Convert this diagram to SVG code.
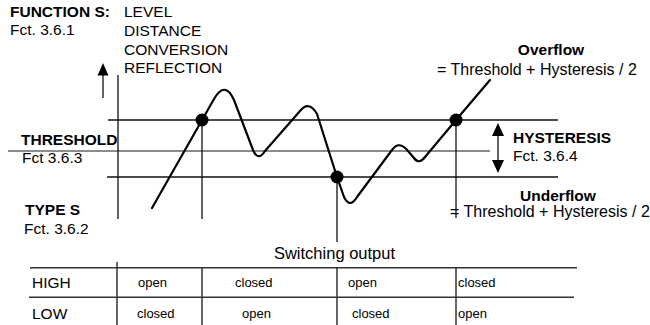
<svg xmlns="http://www.w3.org/2000/svg" width="650" height="325" viewBox="0 0 650 325">
<style>
text{font-family:"Liberation Sans",Arial,sans-serif;fill:#000}
.b{font-weight:bold;font-size:15.5px}
.r{font-size:15.5px}
.eq{font-size:16px}
.s{font-size:13px}
.ln{stroke:#111;stroke-width:1.3;fill:none}
.th{stroke:#666;stroke-width:1.5;fill:none}
.tb{stroke:#333;stroke-width:1.5;fill:none}
.curve{stroke:#000;stroke-width:2.2;fill:none;stroke-linejoin:round;stroke-linecap:round}
.dot{fill:#000}
</style>
<rect width="650" height="325" fill="#fff"/>
<g id="labels">
<text class="b" x="10" y="17">FUNCTION S:</text>
<text class="r" x="10" y="35">Fct. 3.6.1</text>
<text class="r" x="124" y="17">LEVEL</text>
<text class="r" x="124" y="35.5">DISTANCE</text>
<text class="r" x="124" y="54.5">CONVERSION</text>
<text class="r" x="124" y="73">REFLECTION</text>
<text class="b" x="21" y="145">THRESHOLD</text>
<text class="r" x="22" y="163">Fct 3.6.3</text>
<text class="b" x="25" y="215">TYPE S</text>
<text class="r" x="24" y="234">Fct. 3.6.2</text>
<text class="b" x="551" y="55" text-anchor="middle">Overflow</text>
<text class="eq" x="437" y="75">= Threshold + Hysteresis / 2</text>
<text class="b" x="513" y="143">HYSTERESIS</text>
<text class="r" x="513" y="161">Fct. 3.6.4</text>
<text class="b" x="558" y="201" text-anchor="middle">Underflow</text>
<text class="eq" x="450" y="217">= Threshold + Hysteresis / 2</text>
<text class="eq" x="334.5" y="259" text-anchor="middle" style="font-size:16.5px">Switching output</text>
</g>
<g id="connectors">
<line class="ln" x1="108" y1="120" x2="558" y2="120"/>
<line class="th" x1="8" y1="151" x2="490" y2="151"/>
<line class="ln" x1="107" y1="177" x2="558" y2="177"/>
<line class="ln" x1="118" y1="75" x2="118" y2="219"/>
<line class="ln" x1="202" y1="120" x2="202" y2="219"/>
<line class="ln" x1="337" y1="177" x2="337" y2="242"/>
<line class="ln" x1="456" y1="120" x2="456" y2="218"/>
<line class="ln" x1="103" y1="98" x2="103" y2="74"/>
<polygon points="103,63 97.5,75.5 108.5,75.5" fill="#000"/>
<line class="ln" x1="498" y1="133" x2="498" y2="163"/>
<polygon points="498,123 492,136 504,136" fill="#000"/>
<polygon points="498,173 492,160 504,160" fill="#000"/>
</g>
<g id="signal">
<path class="curve" d="M152,208 L214,99 Q225,80 234,100 L253,150 Q258,162 265,151 L300,111 Q309,100 317,114 L337,177 L344,197 Q350,209 357,197 L392,150 Q399,140 408,151 L414,158 Q419,165 425,157 L456,120 L490,80"/>
<circle class="dot" cx="202" cy="120" r="6.5"/>
<circle class="dot" cx="337" cy="177" r="6.5"/>
<circle class="dot" cx="456" cy="120" r="6.5"/>
</g>
<g id="table">
<line class="tb" x1="30" y1="267.7" x2="577" y2="267.7"/>
<line class="tb" x1="29" y1="297.3" x2="574" y2="297.3"/>
<line class="tb" x1="117" y1="262" x2="117" y2="325"/>
<line class="tb" x1="202" y1="267" x2="202" y2="325"/>
<line class="tb" x1="337" y1="267" x2="337" y2="325"/>
<line class="tb" x1="456" y1="267" x2="456" y2="325"/>
<text class="r" x="32" y="288">HIGH</text>
<text class="r" x="32" y="319">LOW</text>
<text class="s" x="138" y="287">open</text>
<text class="s" x="235" y="287">closed</text>
<text class="s" x="348" y="287">open</text>
<text class="s" x="458" y="287">closed</text>
<text class="s" x="137" y="318">closed</text>
<text class="s" x="242" y="318">open</text>
<text class="s" x="352" y="318">closed</text>
<text class="s" x="458" y="318">open</text>
</g>
</svg>
